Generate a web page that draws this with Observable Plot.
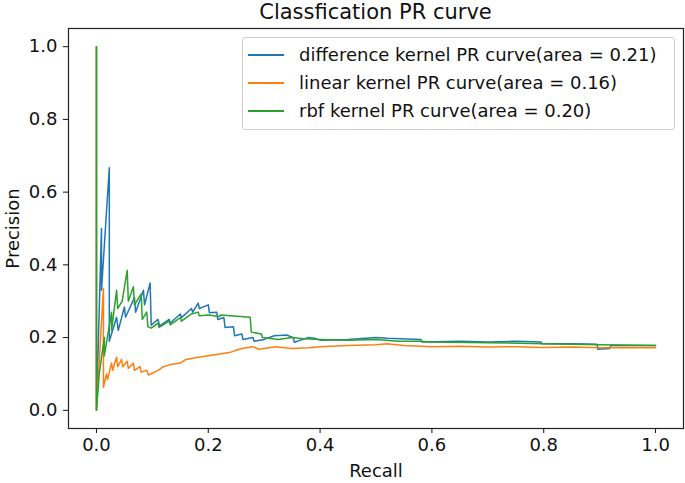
<!DOCTYPE html>
<html>
<head>
<meta charset="utf-8">
<script src="https://cdn.jsdelivr.net/npm/d3@7"></script>
<script src="https://cdn.jsdelivr.net/npm/@observablehq/plot@0.6"></script>
<style>
  body { margin: 0; background: #fff; font-family: "DejaVu Sans", sans-serif; }
  #wrap { position: relative; width: 685px; height: 483px; }
  #title { height: 24px; line-height: 24px; font-size: 21px; text-align: center; padding-left: 66px; color: #111; }
  #legend { position: absolute; left: 242px; top: 37px; width: 431px; height: 88px; border: 1px solid #cfcfcf; border-radius: 3px; background: rgba(255,255,255,0.85); box-sizing: content-box; padding-top: 3px; }
  .row { position: relative; height: 28px; font-size: 18px; color: #111; }
  .row .sw { position: absolute; left: 5px; top: 13px; width: 36px; height: 2px; }
  .row .tx { position: absolute; left: 56px; top: 0; line-height: 28px; white-space: nowrap; }
</style>
</head>
<body>
<div id="wrap">
  <div id="title">Classfication PR curve</div>
  <div id="chart"></div>
  <div id="legend"></div>
</div>
<script>
const seriesNames = [
  "difference kernel PR curve(area = 0.21)",
  "linear kernel PR curve(area = 0.16)",
  "rbf kernel PR curve(area = 0.20)"
];
const seriesColors = ["#1f77b4", "#ff7f0e", "#2ca02c"];

const diffRecall = [0,0,0.009,0.009,0.023,0.023,0.036,0.039,0.05,0.052,0.068,0.07,0.084,0.086,0.096,0.098,0.11,0.113,0.13,0.132,0.15,0.152,0.17,0.172,0.182,0.184,0.2,0.202,0.215,0.217,0.228,0.23,0.245,0.247,0.26,0.262,0.28,0.282,0.3,0.318,0.34,0.352,0.354,0.378,0.39,0.4,0.45,0.5,0.52,0.58,0.582,0.65,0.7,0.75,0.795,0.797,0.85,0.895,0.897,0.918,0.92,0.96,1.0];
const diffPrecision = [1,0,0.5,0.33,0.667,0.19,0.256,0.22,0.284,0.256,0.31,0.27,0.33,0.29,0.35,0.234,0.25,0.232,0.25,0.24,0.265,0.255,0.28,0.27,0.295,0.28,0.29,0.268,0.27,0.25,0.255,0.228,0.23,0.205,0.21,0.195,0.2,0.19,0.195,0.205,0.207,0.2,0.187,0.2,0.198,0.193,0.195,0.2,0.198,0.195,0.188,0.19,0.188,0.19,0.188,0.183,0.183,0.182,0.168,0.17,0.178,0.178,0.178];

const linRecall = [0,0,0.0125,0.0125,0.018,0.02,0.027,0.029,0.036,0.038,0.045,0.047,0.055,0.057,0.066,0.068,0.078,0.08,0.09,0.093,0.11,0.12,0.13,0.15,0.16,0.18,0.2,0.22,0.24,0.25,0.26,0.28,0.29,0.3,0.32,0.35,0.38,0.4,0.45,0.5,0.52,0.55,0.6,0.65,0.7,0.75,0.8,0.85,0.9,0.95,1.0];
const linPrecision = [1,0,0.336,0.063,0.1,0.085,0.13,0.11,0.146,0.12,0.14,0.12,0.135,0.115,0.13,0.11,0.12,0.105,0.11,0.097,0.11,0.12,0.125,0.13,0.14,0.145,0.15,0.155,0.16,0.165,0.17,0.175,0.168,0.17,0.175,0.17,0.172,0.175,0.178,0.18,0.183,0.178,0.175,0.176,0.174,0.175,0.173,0.174,0.172,0.173,0.172];

const rbfRecall = [0,0,0.005,0.014,0.014,0.027,0.027,0.036,0.038,0.046,0.055,0.057,0.066,0.068,0.08,0.082,0.09,0.092,0.098,0.11,0.112,0.13,0.132,0.15,0.152,0.17,0.182,0.184,0.2,0.22,0.222,0.275,0.277,0.295,0.297,0.325,0.35,0.37,0.4,0.45,0.5,0.54,0.58,0.6,0.7,0.8,0.9,1.0];
const rbfPrecision = [1,0,0.1,0.2,0.15,0.27,0.22,0.33,0.28,0.3,0.385,0.3,0.34,0.29,0.32,0.25,0.27,0.23,0.226,0.24,0.228,0.245,0.235,0.255,0.245,0.265,0.27,0.26,0.262,0.258,0.262,0.256,0.215,0.21,0.2,0.195,0.2,0.197,0.195,0.193,0.195,0.19,0.19,0.188,0.186,0.183,0.18,0.178];

const xTicks = [0, 0.2, 0.4, 0.6, 0.8, 1.0];
const yTicks = [0, 0.2, 0.4, 0.6, 0.8, 1.0];

const recalls = [diffRecall, linRecall, rbfRecall];
const precisions = [diffPrecision, linPrecision, rbfPrecision];
const data = [];
seriesNames.forEach((name, s) => {
  recalls[s].forEach((r, i) => data.push({series: name, recall: r, precision: precisions[s][i]}));
});

const chart = Plot.plot({
  width: 685,
  height: 459,
  marginTop: 4,
  marginBottom: 55,
  marginLeft: 68,
  marginRight: 2,
  style: {fontFamily: "DejaVu Sans, sans-serif", fontSize: "18px", color: "#111", background: "#fff"},
  x: {domain: [-0.05, 1.05]},
  y: {domain: [-0.05, 1.05]},
  color: {domain: seriesNames, range: seriesColors},
  marks: [
    Plot.line(data, {x: "recall", y: "precision", z: "series", stroke: "series", strokeWidth: 1.5, curve: "linear"}),
    Plot.frame({stroke: "#222", strokeWidth: 1.2}),
    Plot.axisX({ticks: xTicks, tickFormat: d3.format(".1f"), tickSize: 5, tickPadding: 5, fontSize: 18, label: "Recall", labelAnchor: "center", labelOffset: 48, labelArrow: "none"}),
    Plot.axisY({ticks: yTicks, tickFormat: d3.format(".1f"), tickSize: 5, tickPadding: 6, fontSize: 18, label: "Precision", labelAnchor: "center", labelOffset: 62, labelArrow: "none"})
  ]
});
document.getElementById("chart").appendChild(chart);

const leg = document.getElementById("legend");
seriesNames.forEach((name, i) => {
  const row = document.createElement("div");
  row.className = "row";
  const sw = document.createElement("div");
  sw.className = "sw";
  sw.style.background = seriesColors[i];
  const tx = document.createElement("div");
  tx.className = "tx";
  tx.textContent = name;
  row.appendChild(sw);
  row.appendChild(tx);
  leg.appendChild(row);
});
</script>
</body>
</html>
